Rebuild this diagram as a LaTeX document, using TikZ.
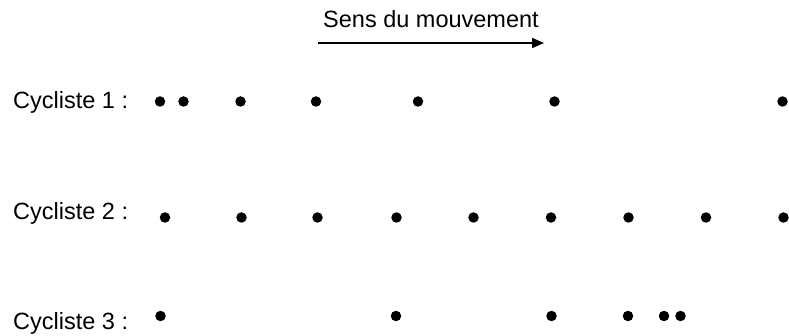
\documentclass[tikz,border=0pt]{standalone}
\usepackage{fontspec}
\setmainfont{Liberation Sans}
\usetikzlibrary{arrows.meta}

\begin{document}
\begin{tikzpicture}[x=1pt,y=-1pt,>={Triangle[length=12pt,width=10pt]},
    font=\fontsize{23.5}{28}\selectfont,
    label/.style={anchor=base west,inner sep=0pt},
    dot/.style={circle,fill=black,inner sep=0pt,minimum size=10.5pt}]
  \useasboundingbox (0,0) rectangle (789,336);

  % direction of motion
  \node[anchor=base,inner sep=0pt] (sens) at (431,28) {Sens du mouvement};
  \coordinate (a0) at (318,43);
  \coordinate (a1) at (544,43);
  \draw[->,line width=1.7pt] (a0) -- (a1);

  % cyclist 1
  \node[label] (lab1) at (13,109) {Cycliste 1 :};
  \foreach \x [count=\i] in {160,183.5,240.5,316,418,554.5,782.5}
    \node[dot] (c1-\i) at (\x,101.5) {};

  % cyclist 2
  \node[label] (lab2) at (13,220) {Cycliste 2 :};
  \foreach \x [count=\i] in {165,241.5,317.5,396.5,473.5,551,628.5,706,783.5}
    \node[dot] (c2-\i) at (\x,217.5) {};

  % cyclist 3
  \node[label] (lab3) at (13,329) {Cycliste 3 :};
  \foreach \x [count=\i] in {160.5,396,551.5,628,664,680.5}
    \node[dot] (c3-\i) at (\x,316) {};
\end{tikzpicture}
\end{document}
